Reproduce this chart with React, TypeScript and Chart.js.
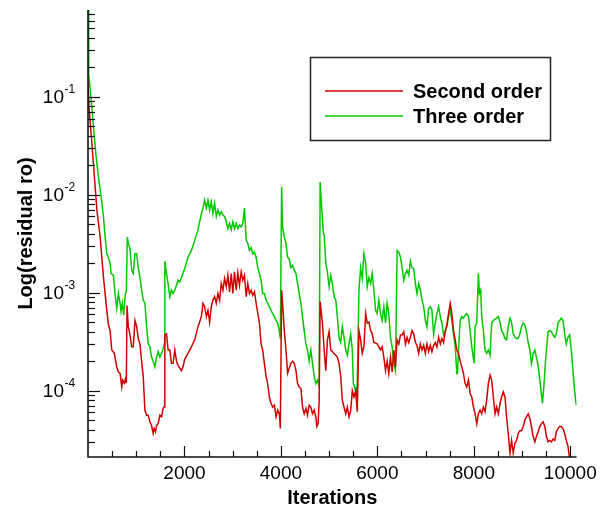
import React, { useEffect, useRef } from "react";
import Chart from "chart.js/auto";

const seriesNames = ["Second order", "Three order"];
const seriesColors = ["#d00000", "#00c800"];
const xTitle = "Iterations";
const yTitle = "Log(residual ro)";
const xTickValues = [2000, 4000, 6000, 8000, 10000];
const yDecadeExponents = [-1, -2, -3, -4];
const xMin = 0;
const xMax = 10130;
const yMin = 2.1e-5;
const yMax = 0.77;

const iterSecond = [
  0, 25, 80, 134, 184, 252, 320, 390, 423, 458, 493, 547, 596, 630, 665, 700, 720, 753, 782, 795,
  809, 836, 871, 906, 939, 974, 1009, 1042, 1077, 1112, 1145, 1180, 1215, 1248, 1283, 1318, 1351, 1372, 1401, 1422,
  1455, 1490, 1525, 1558, 1579, 1593, 1628, 1661, 1696, 1731, 1764, 1800, 1835, 1868, 1903, 1938, 1971, 2006, 2074, 2144,
  2213, 2281, 2351, 2384, 2419, 2454, 2487, 2522, 2557, 2590, 2625, 2660, 2694, 2729, 2763, 2797, 2832, 2867, 2900, 2935,
  2970, 3003, 3038, 3073, 3106, 3141, 3176, 3210, 3245, 3280, 3313, 3348, 3383, 3416, 3451, 3486, 3554, 3589, 3622, 3657,
  3692, 3725, 3761, 3796, 3829, 3864, 3899, 3932, 3967, 3988, 4015, 4035, 4070, 4105, 4138, 4173, 4208, 4242, 4277, 4312,
  4345, 4380, 4415, 4448, 4483, 4518, 4551, 4586, 4621, 4655, 4690, 4724, 4745, 4772, 4793, 4813, 4861, 4896, 4931, 4964,
  4999, 5034, 5103, 5170, 5205, 5240, 5273, 5308, 5344, 5377, 5412, 5447, 5480, 5515, 5550, 5583, 5618, 5653, 5686, 5721,
  5757, 5790, 5825, 5860, 5893, 5928, 5996, 6066, 6099, 6134, 6169, 6202, 6237, 6272, 6306, 6341, 6375, 6409, 6444, 6479,
  6512, 6547, 6582, 6615, 6650, 6685, 6718, 6753, 6789, 6822, 6857, 6892, 6925, 6960, 6995, 7028, 7063, 7098, 7131, 7166,
  7201, 7234, 7270, 7305, 7338, 7373, 7408, 7441, 7476, 7511, 7544, 7579, 7614, 7647, 7682, 7717, 7750, 7785, 7820, 7853,
  7889, 7924, 7957, 7992, 8027, 8060, 8095, 8130, 8163, 8198, 8233, 8266, 8301, 8336, 8370, 8405, 8440, 8473, 8508, 8543,
  8576, 8611, 8646, 8679, 8714, 8749, 8782, 8817, 8852, 8885, 8920, 8955, 8989, 9024, 9059, 9092, 9127, 9162, 9195, 9230,
  9265, 9298, 9333, 9368, 9401, 9436, 9472, 9505, 9540, 9575, 9608, 9643, 9678, 9711, 9746, 9781, 9814, 9849, 9884, 9917,
  9952, 9987, 10000,
];
const residualSecond = [
  0.142, 0.073, 0.034, 0.015, 0.007, 0.0037, 0.00145, 6.6e-4, 4.7e-4, 4.1e-4, 2.6e-4, 2.4e-4, 1.75e-4, 1.55e-4, 1.5e-4, 1.09e-4, 1.28e-4, 1.19e-4, 1.34e-4, 1.19e-4,
  7.4e-4, 4.5e-4, 3.7e-4, 2.8e-4, 2.8e-4, 5.2e-4, 4.5e-4, 3.4e-4, 3.0e-4, 2.0e-4, 1.4e-4, 6.3e-5, 5.6e-5, 5.6e-5, 4.8e-5, 4.4e-5, 3.65e-5, 4.1e-5, 3.8e-5, 4.4e-5,
  4.6e-5, 5.6e-5, 5.4e-5, 6.6e-5, 6.8e-5, 3.7e-4, 3.8e-4, 2.6e-4, 2.6e-4, 1.9e-4, 1.9e-4, 2.6e-4, 2.0e-4, 1.8e-4, 1.7e-4, 1.6e-4, 1.75e-4, 2.1e-4, 2.4e-4, 2.8e-4,
  3.3e-4, 4.5e-4, 5.7e-4, 7.8e-4, 7.2e-4, 5.7e-4, 6.6e-4, 5.0e-4, 7.2e-4, 8.4e-4, 9.1e-4, 7.8e-4, 9.8e-4, 8.4e-4, 1.24e-3, 1.06e-3, 1.4e-3, 1.15e-3, 1.51e-3, 1.02e-3,
  1.57e-3, 9.8e-4, 1.63e-3, 1.06e-3, 1.6e-3, 1.19e-3, 1.63e-3, 1.34e-3, 1.51e-3, 9.1e-4, 1.24e-3, 9.8e-4, 1.06e-3, 9.4e-4, 1.02e-3, 7.8e-4, 4.9e-4, 3.0e-4, 2.6e-4, 1.9e-4,
  1.4e-4, 1.18e-4, 8.6e-5, 7.4e-5, 6.8e-5, 7.1e-5, 5.4e-5, 6.3e-5, 5.8e-5, 4.1e-5, 1.06e-3, 7.8e-4, 4.1e-4, 2.6e-4, 1.5e-4, 1.7e-4, 1.9e-4, 2.0e-4, 1.9e-4, 1.6e-4,
  1.18e-4, 1.09e-4, 1.05e-4, 6.8e-5, 5.8e-5, 6.6e-5, 5.6e-5, 7.1e-5, 6.8e-5, 5.8e-5, 6.3e-5, 5.4e-5, 4.3e-5, 4.6e-5, 8.0e-5, 8.1e-4, 4.9e-4, 2.6e-4, 1.6e-4, 3.3e-4,
  4.0e-4, 2.6e-4, 2.4e-4, 2.2e-4, 1.9e-4, 1.4e-4, 8.0e-5, 6.8e-5, 5.8e-5, 6.8e-5, 5.4e-5, 6.3e-5, 1.0e-4, 8.6e-5, 1.0e-4, 6.1e-5, 4.1e-4, 3.3e-4, 2.4e-4, 2.8e-4,
  6.1e-4, 4.9e-4, 5.0e-4, 4.1e-4, 3.8e-4, 3.1e-4, 3.0e-4, 2.6e-4, 2.8e-4, 2.2e-4, 1.6e-4, 2.0e-4, 1.5e-4, 2.2e-4, 1.55e-4, 2.6e-4, 1.75e-4, 3.3e-4, 3.0e-4, 3.7e-4,
  3.7e-4, 4.0e-4, 3.0e-4, 3.5e-4, 3.1e-4, 3.5e-4, 4.1e-4, 3.8e-4, 3.1e-4, 2.9e-4, 2.4e-4, 3.0e-4, 2.6e-4, 2.9e-4, 2.4e-4, 3.0e-4, 2.5e-4, 2.9e-4, 2.5e-4, 2.9e-4,
  3.1e-4, 2.8e-4, 3.5e-4, 3.0e-4, 3.4e-4, 3.1e-4, 4.0e-4, 4.7e-4, 6.1e-4, 7.8e-4, 6.1e-4, 4.1e-4, 3.3e-4, 2.6e-4, 2.4e-4, 2.0e-4, 1.75e-4, 1.5e-4, 1.18e-4, 1.09e-4,
  1.28e-4, 9.3e-5, 8.6e-5, 6.8e-5, 5.8e-5, 4.6e-5, 5.8e-5, 6.3e-5, 5.8e-5, 6.8e-5, 6.1e-5, 8.0e-5, 1.18e-4, 1.44e-4, 1.28e-4, 8.6e-5, 5.8e-5, 6.8e-5, 5.8e-5, 7.4e-5,
  8.6e-5, 9.7e-5, 8.6e-5, 5.4e-5, 3.65e-5, 2.3e-5, 3.1e-5, 2.3e-5, 2.9e-5, 3.1e-5, 3.65e-5, 3.9e-5, 3.9e-5, 4.3e-5, 5.0e-5, 5.4e-5, 5.8e-5, 5.2e-5, 4.3e-5, 3.4e-5,
  3.0e-5, 3.4e-5, 3.8e-5, 4.3e-5, 4.6e-5, 4.8e-5, 4.3e-5, 3.4e-5, 3.0e-5, 3.1e-5, 3.0e-5, 3.2e-5, 3.1e-5, 3.8e-5, 4.1e-5, 4.3e-5, 4.3e-5, 4.1e-5, 3.65e-5, 3.1e-5,
  2.7e-5, 2.0e-5, 1.8e-5,
];

const iterThree = [
  0, 14, 31, 66, 114, 163, 217, 272, 320, 355, 390, 423, 458, 479, 526, 561, 596, 630, 665, 685,
  712, 741, 768, 795, 815, 836, 871, 906, 939, 974, 1009, 1042, 1077, 1112, 1145, 1180, 1215, 1248, 1283, 1318,
  1351, 1387, 1422, 1455, 1490, 1525, 1558, 1579, 1593, 1628, 1661, 1696, 1731, 1764, 1800, 1835, 1868, 1903, 1938, 2006,
  2074, 2144, 2213, 2281, 2351, 2384, 2419, 2454, 2487, 2522, 2557, 2590, 2625, 2660, 2694, 2729, 2763, 2797, 2832, 2867,
  2900, 2935, 2970, 3003, 3038, 3073, 3106, 3141, 3176, 3210, 3245, 3280, 3313, 3348, 3383, 3416, 3451, 3486, 3520, 3554,
  3589, 3622, 3657, 3692, 3725, 3761, 3796, 3829, 3864, 3899, 3932, 3967, 3988, 4015, 4035, 4070, 4105, 4138, 4173, 4208,
  4242, 4277, 4312, 4345, 4380, 4415, 4448, 4483, 4518, 4551, 4586, 4621, 4655, 4690, 4724, 4758, 4793, 4813, 4848, 4881,
  4896, 4931, 4964, 4999, 5034, 5067, 5103, 5138, 5170, 5205, 5240, 5273, 5308, 5344, 5377, 5412, 5447, 5480, 5501, 5530,
  5563, 5583, 5618, 5653, 5686, 5721, 5757, 5790, 5825, 5860, 5893, 5928, 5963, 5996, 6031, 6066, 6099, 6134, 6169, 6202,
  6237, 6272, 6306, 6341, 6375, 6409, 6444, 6479, 6512, 6547, 6582, 6615, 6650, 6685, 6718, 6753, 6789, 6822, 6857, 6892,
  6925, 6960, 6995, 7028, 7063, 7098, 7131, 7166, 7201, 7234, 7270, 7305, 7338, 7373, 7408, 7441, 7476, 7511, 7544, 7579,
  7614, 7647, 7662, 7682, 7717, 7750, 7785, 7820, 7853, 7889, 7924, 7957, 8007, 8027, 8060, 8095, 8116, 8143, 8163, 8198,
  8233, 8266, 8301, 8336, 8370, 8405, 8473, 8508, 8543, 8576, 8611, 8646, 8679, 8714, 8749, 8782, 8817, 8852, 8885, 8920,
  8955, 8989, 9024, 9059, 9092, 9127, 9162, 9195, 9230, 9265, 9298, 9333, 9368, 9401, 9422, 9451, 9492, 9540, 9575, 9608,
  9643, 9678, 9711, 9746, 9781, 9814, 9849, 9884, 9917, 9952, 9987, 10020, 10055, 10090, 10124,
];
const residualThree = [
  1.0, 0.167, 0.141, 0.092, 0.049, 0.026, 0.015, 0.0095, 0.006, 0.0037, 0.0025, 0.0023, 0.002, 0.00157, 0.00151, 9.8e-4, 6.9e-4, 9.8e-4, 7.8e-4, 6.4e-4,
  7.8e-4, 5.9e-4, 9.1e-4, 1.06e-3, 0.0037, 0.0032, 0.0028, 0.0017, 0.00157, 0.0025, 0.0025, 0.0018, 0.00143, 0.00106, 8.4e-4, 7.8e-4, 4.5e-4, 3.0e-4, 2.8e-4, 2.2e-4,
  2.0e-4, 1.75e-4, 2.2e-4, 2.5e-4, 2.2e-4, 2.4e-4, 2.7e-4, 3.0e-4, 0.0021, 0.00157, 0.00124, 9.1e-4, 1.06e-3, 9.8e-4, 1.06e-3, 1.19e-3, 1.34e-3, 1.29e-3, 1.43e-3, 0.00177,
  0.0023, 0.0027, 0.0034, 0.0044, 0.0064, 0.0073, 0.0088, 0.0073, 0.0088, 0.007, 0.0085, 0.0064, 0.0082, 0.006, 0.007, 0.0062, 0.0067, 0.0062, 0.006, 0.0053,
  0.0045, 0.0051, 0.0044, 0.0053, 0.0045, 0.0051, 0.0045, 0.0049, 0.0047, 0.0051, 0.0073, 0.0034, 0.0032, 0.0027, 0.0029, 0.0025, 0.0026, 0.0023, 0.0018, 0.00157,
  0.00134, 9.8e-4, 9.8e-4, 8.4e-4, 7.8e-4, 7.2e-4, 6.6e-4, 6.1e-4, 5.7e-4, 5.2e-4, 4.9e-4, 4.1e-4, 3.4e-4, 0.012, 0.0047, 0.0037, 0.0032, 0.0023, 0.0022, 0.0018,
  0.0019, 0.0017, 0.00157, 0.00124, 9.8e-4, 7.8e-4, 5.7e-4, 4.1e-4, 3.0e-4, 2.6e-4, 2.0e-4, 2.6e-4, 1.9e-4, 1.4e-4, 1.18e-4, 1.28e-4, 1.09e-4, 0.0135, 0.007, 0.004,
  0.0039, 0.002, 0.00163, 0.00115, 0.00151, 0.00124, 9.1e-4, 8.4e-4, 5.7e-4, 3.5e-4, 3.1e-4, 4.5e-4, 3.5e-4, 2.6e-4, 2.3e-4, 3.0e-4, 3.8e-4, 2.6e-4, 1.18e-4, 1.09e-4,
  9.3e-5, 1.18e-4, 1.06e-3, 0.0018, 0.0014, 0.0025, 0.002, 0.00115, 0.00143, 0.00124, 0.00157, 1.06e-3, 6.6e-4, 6.1e-4, 8.4e-4, 6.1e-4, 5.2e-4, 7.2e-4, 4.9e-4, 7.8e-4,
  6.1e-4, 3.5e-4, 2.8e-4, 1.9e-4, 1.6e-4, 0.0027, 0.0026, 0.0023, 0.0018, 0.00134, 0.00157, 0.0017, 0.00151, 0.0021, 0.0018, 0.00177, 0.00124, 9.8e-4, 0.00124, 1.06e-3,
  8.4e-4, 7.2e-4, 5.2e-4, 4.5e-4, 6.9e-4, 7.2e-4, 6.6e-4, 3.8e-4, 4.9e-4, 6.1e-4, 7.2e-4, 5.7e-4, 4.9e-4, 3.7e-4, 4.1e-4, 4.5e-4, 5.7e-4, 6.6e-4, 5.2e-4, 3.8e-4,
  2.8e-4, 1.5e-4, 1.5e-4, 2.6e-4, 5.2e-4, 5.7e-4, 5.5e-4, 5.9e-4, 6.1e-4, 5.7e-4, 4.1e-4, 2.8e-4, 1.9e-4, 4.5e-4, 4.9e-4, 0.00157, 9.8e-4, 1.06e-3, 5.7e-4, 4.1e-4,
  2.6e-4, 2.4e-4, 2.6e-4, 2.3e-4, 4.9e-4, 5.2e-4, 5.5e-4, 5.7e-4, 5.0e-4, 4.1e-4, 3.8e-4, 3.4e-4, 3.3e-4, 4.5e-4, 5.5e-4, 5.0e-4, 3.8e-4, 3.5e-4, 3.4e-4, 3.4e-4,
  3.8e-4, 4.5e-4, 4.9e-4, 4.7e-4, 4.0e-4, 3.1e-4, 2.6e-4, 1.9e-4, 2.4e-4, 2.6e-4, 2.2e-4, 1.8e-4, 1.28e-4, 9.3e-5, 7.4e-5, 1.09e-4, 2.2e-4, 4.0e-4, 4.1e-4, 4.0e-4,
  3.7e-4, 3.5e-4, 3.8e-4, 4.9e-4, 5.2e-4, 5.5e-4, 5.2e-4, 3.8e-4, 3.0e-4, 3.5e-4, 3.7e-4, 2.6e-4, 1.6e-4, 1.0e-4, 7.1e-5,
];

const FONT = "'Liberation Sans', Arial, Helvetica, sans-serif";

const decorPlugin = {
  id: "decor",
  afterDraw(chart: any) {
    const { ctx, chartArea: a, scales } = chart;
    const xs = scales.x;
    const ys = scales.y;
    ctx.save();
    ctx.strokeStyle = "#111";
    ctx.lineWidth = 1.6;
    ctx.beginPath();
    ctx.moveTo(a.left, a.top);
    ctx.lineTo(a.left, a.bottom);
    ctx.lineTo(a.right, a.bottom);
    ctx.stroke();

    ctx.lineWidth = 1.2;
    for (let e = -5; e <= 0; e++) {
      for (let m = 1; m <= 9; m++) {
        const v = m * Math.pow(10, e);
        if (v < ys.min || v > ys.max) continue;
        const y = Math.round(ys.getPixelForValue(v)) + 0.5;
        const len = m === 1 ? 12 : 7;
        ctx.beginPath();
        ctx.moveTo(a.left, y);
        ctx.lineTo(a.left + len, y);
        ctx.stroke();
      }
    }
    for (let v = 500; v <= xs.max; v += 500) {
      const x = Math.round(xs.getPixelForValue(v)) + 0.5;
      const len = v % 2000 === 0 ? 11 : 6;
      ctx.beginPath();
      ctx.moveTo(x, a.bottom);
      ctx.lineTo(x, a.bottom - len);
      ctx.stroke();
    }

    // y decade labels
    ctx.fillStyle = "#000";
    for (const e of yDecadeExponents) {
      const y = ys.getPixelForValue(Math.pow(10, e));
      ctx.font = `19px ${FONT}`;
      ctx.textAlign = "right";
      ctx.textBaseline = "alphabetic";
      ctx.fillText("10", 64, y + 6.5);
      ctx.font = `12px ${FONT}`;
      ctx.textAlign = "left";
      ctx.fillText(String(e), 64.5, y - 3.5);
    }

    // y title
    ctx.save();
    ctx.translate(26, (a.top + a.bottom) / 2);
    ctx.rotate(-Math.PI / 2);
    ctx.font = `bold 20px ${FONT}`;
    ctx.textAlign = "center";
    ctx.textBaseline = "middle";
    ctx.fillText(yTitle, 0, 0);
    ctx.restore();

    // legend
    ctx.lineWidth = 1.5;
    ctx.strokeStyle = "#222";
    ctx.strokeRect(310.5, 57.5, 240, 83);
    const rows = [91, 116];
    chart.data.datasets.forEach((ds: any, i: number) => {
      const y = rows[i];
      ctx.strokeStyle = ds.borderColor;
      ctx.lineWidth = 1.4;
      ctx.beginPath();
      ctx.moveTo(325, y);
      ctx.lineTo(403, y);
      ctx.stroke();
      ctx.fillStyle = "#000";
      ctx.font = `bold 20px ${FONT}`;
      ctx.textAlign = "left";
      ctx.textBaseline = "alphabetic";
      ctx.fillText(ds.label, 413, y + 6.5);
    });
    ctx.restore();
  },
};

export default function App() {
  const ref = useRef<HTMLCanvasElement | null>(null);
  useEffect(() => {
    if (!ref.current) return;
    const chart = new Chart(ref.current, {
      type: "line",
      data: {
        datasets: [
          {
            label: seriesNames[0],
            data: iterSecond.map((x, i) => ({ x, y: residualSecond[i] })),
            borderColor: seriesColors[0],
            borderWidth: 1.5,
            pointRadius: 0,
            fill: false,
          },
          {
            label: seriesNames[1],
            data: iterThree.map((x, i) => ({ x, y: residualThree[i] })),
            borderColor: seriesColors[1],
            borderWidth: 1.5,
            pointRadius: 0,
            fill: false,
          },
        ],
      },
      options: {
        responsive: false,
        animation: false,
        events: [],
        layout: { padding: { left: 88, top: 10, right: 23, bottom: 0 } },
        plugins: { legend: { display: false }, tooltip: { enabled: false } },
        elements: { line: { tension: 0 } },
        scales: {
          x: {
            type: "linear",
            min: xMin,
            max: xMax,
            afterFit: (s: any) => {
              s.height = 53;
            },
            afterBuildTicks: (s: any) => {
              s.ticks = xTickValues.map((v) => ({ value: v }));
            },
            grid: { display: false, drawTicks: false },
            border: { display: false },
            ticks: {
              padding: 5,
              color: "#000",
              autoSkip: false,
              maxRotation: 0,
              font: { family: FONT, size: 19 },
              callback: (v: any) => String(v),
            },
            title: {
              display: true,
              text: xTitle,
              color: "#000",
              font: { family: FONT, size: 20, weight: "bold" },
              padding: { top: 0, bottom: 0 },
            },
          },
          y: {
            type: "logarithmic",
            min: yMin,
            max: yMax,
            display: false,
          },
        },
      },
      plugins: [decorPlugin],
    } as any);
    return () => chart.destroy();
  }, []);
  return (
    <div style={{ position: "absolute", left: 0, top: 0, width: 602, height: 510, background: "#fff" }}>
      <canvas ref={ref} width={602} height={510} style={{ display: "block" }} />
    </div>
  );
}
